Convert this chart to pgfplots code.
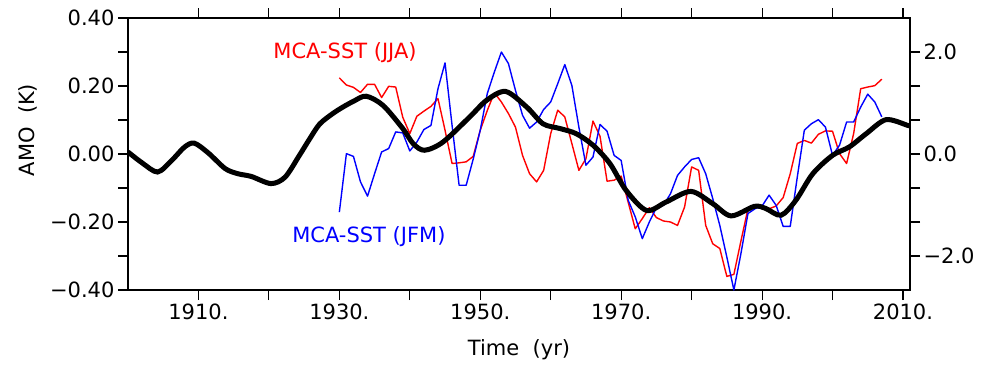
\documentclass[border=0pt]{standalone}
\usepackage{fontspec}
\setmainfont{DejaVu Sans}
\usepackage{pgfplots}
\usepackage{pgfplotstable}
\pgfplotsset{compat=1.18}

\pgfplotstableread{
year val
1900 0.006
1902 -0.026
1904.2 -0.053
1906.2 -0.019
1908 0.020
1909.4 0.032
1911.4 0.003
1913.8 -0.043
1915.6 -0.058
1917.5 -0.066
1920.3 -0.087
1922.3 -0.068
1924.3 -0.005
1925.8 0.045
1927.2 0.088
1929 0.118
1930.5 0.138
1932 0.155
1933.8 0.170
1936.2 0.143
1939 0.075
1940.5 0.030
1942.1 0.011
1944.7 0.035
1948.5 0.109
1950.9 0.158
1953.6 0.184
1956.6 0.138
1958.9 0.089
1961.3 0.075
1963.6 0.060
1966 0.026
1968.4 -0.028
1970.7 -0.107
1973.6 -0.166
1976.4 -0.141
1979.9 -0.110
1983 -0.146
1985.6 -0.182
1988.9 -0.154
1990.5 -0.160
1992.7 -0.180
1994.8 -0.136
1997.2 -0.058
2000 -0.004
2002.4 0.021
2004.8 0.060
2007.6 0.101
2010.7 0.084
2011 0.083
}\amo

\pgfplotstableread{
year val
1930 0.224
1931 0.203
1932 0.196
1933 0.181
1934 0.205
1935 0.205
1936 0.166
1937 0.199
1938 0.197
1939 0.108
1940 0.060
1941 0.111
1942 0.126
1943 0.140
1944 0.163
1945 0.070
1946 -0.028
1947 -0.026
1948 -0.023
1949 -0.007
1950 0.070
1951 0.128
1952 0.180
1953 0.153
1954 0.119
1955 0.079
1956 -0.004
1957 -0.058
1958 -0.082
1959 -0.048
1960 0.060
1961 0.129
1962 0.109
1963 0.031
1964 -0.048
1965 -0.014
1966 0.097
1967 0.052
1968 -0.080
1969 -0.077
1970 -0.065
1971 -0.142
1972 -0.220
1973 -0.190
1974 -0.158
1975 -0.187
1976 -0.197
1977 -0.200
1978 -0.210
1979 -0.156
1980 -0.038
1981 -0.048
1982 -0.210
1983 -0.264
1984 -0.278
1985 -0.360
1986 -0.354
1987 -0.256
1988 -0.161
1989 -0.155
1990 -0.153
1991 -0.161
1992 -0.153
1993 -0.128
1994 -0.058
1995 0.031
1996 0.040
1997 0.032
1998 0.058
1999 0.068
2000 0.067
2001 0.001
2002 -0.028
2003 0.060
2004 0.192
2005 0.197
2006 0.201
2007 0.220
}\jja

\pgfplotstableread{
year val
1930 -0.171
1931 0.001
1932 -0.007
1933 -0.082
1934 -0.124
1935 -0.058
1936 0.006
1937 0.016
1938 0.065
1939 0.062
1940 0.009
1941 0.035
1942 0.072
1943 0.084
1944 0.192
1945 0.268
1946 0.084
1947 -0.092
1948 -0.092
1949 -0.015
1950 0.070
1951 0.178
1952 0.241
1953 0.300
1954 0.266
1955 0.187
1956 0.114
1957 0.076
1958 0.094
1959 0.131
1960 0.153
1961 0.207
1962 0.263
1963 0.202
1964 0.079
1965 -0.033
1966 -0.009
1967 0.087
1968 0.067
1969 -0.004
1970 -0.019
1971 -0.136
1972 -0.185
1973 -0.249
1974 -0.200
1975 -0.158
1976 -0.151
1977 -0.117
1978 -0.063
1979 -0.038
1980 -0.016
1981 -0.011
1982 -0.058
1983 -0.131
1984 -0.210
1985 -0.303
1986 -0.400
1987 -0.293
1988 -0.175
1989 -0.161
1990 -0.153
1991 -0.121
1992 -0.151
1993 -0.213
1994 -0.213
1995 -0.068
1996 0.070
1997 0.089
1998 0.101
1999 0.079
2000 -0.004
2001 0.026
2002 0.094
2003 0.094
2004 0.138
2005 0.176
2006 0.153
2007 0.109
}\jfm

\begin{document}
\begin{tikzpicture}[x=1pt,y=1pt]
\useasboundingbox (-128,-75) rectangle (860,290);
\pgfplotsset{
  common/.style={
    at={(0,0)}, anchor=south west,
    scale only axis, width=782pt, height=272pt,
    xmin=1900, xmax=2011, ymin=-0.4, ymax=0.4,
    tick align=outside,
    major tick length=10pt, minor tick length=10pt,
    every tick/.style={black, line width=1.1pt},
    axis line style={line width=1.1pt},
    tick label style={font=\fontsize{21}{25}\selectfont},
    label style={font=\fontsize{21}{25}\selectfont},
  }
}
\begin{axis}[common,
  xtick={1910,1930,1950,1970,1990,2010},
  xticklabels={1910.,1930.,1950.,1970.,1990.,2010.},
  minor xtick={1920,1940,1960,1980,2000},
  ytick={-0.4,-0.2,0,0.2,0.4},
  yticklabels={−0.40,−0.20,0.00,0.20,0.40},
  minor ytick={-0.3,-0.1,0.1,0.3},
  xtick pos=both, ytick pos=left,
  xlabel={Time\ \ (yr)}, ylabel={AMO\ \ (K)},
  xlabel style={at={(axis description cs:0.5,-0.22)}, anchor=center},
  ylabel style={at={(axis description cs:-0.128,0.588)}, anchor=center},
]
\addplot[red, line width=1.4pt, line join=round] table[x=year,y=val] {\jja};
\addplot[blue, line width=1.4pt, line join=round] table[x=year,y=val] {\jfm};
\addplot[black, line width=5pt, smooth] table[x=year,y=val] {\amo};
\node[red, font=\fontsize{21}{25}\selectfont] at (axis description cs:0.2775,0.872) {MCA-SST (JJA)};
\node[blue, font=\fontsize{21}{25}\selectfont] at (axis description cs:0.308,0.196) {MCA-SST (JFM)};
\end{axis}
\begin{axis}[common,
  hide x axis,
  axis y line*=right,
  ytick={-0.3,0,0.3},
  yticklabels={−2.0,0.0,2.0},
  minor ytick={-0.2,-0.1,0.1,0.2},
]
\end{axis}
\end{tikzpicture}
\end{document}
